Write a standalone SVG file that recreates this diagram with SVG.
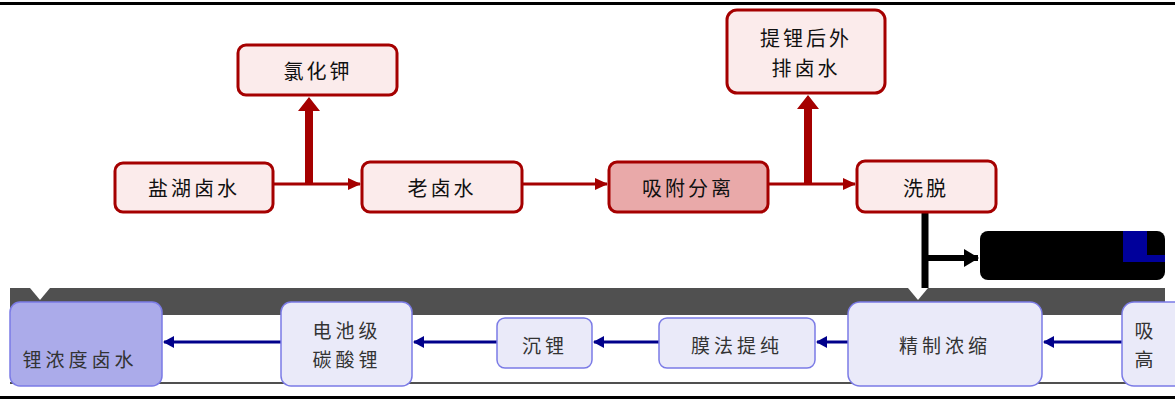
<svg xmlns="http://www.w3.org/2000/svg" width="1175" height="399" viewBox="0 0 1175 399">
<defs>
<style>
.tb{fill:#FBEBEB;stroke:#A50000;stroke-width:3}
.tb2{fill:#E9A9A9;stroke:#A50000;stroke-width:3}
.bb{fill:#EAEAF9;stroke:#7B7BE6;stroke-width:1.5}
.bb2{fill:#ABABEA;stroke:#7B7BE6;stroke-width:1.5}
.t{font-family:"Noto Sans CJK SC","Noto Sans",sans-serif;font-size:20px;fill:#111;text-anchor:middle;dominant-baseline:central;letter-spacing:3px}
.bt{font-family:"Noto Sans CJK SC","Noto Sans",sans-serif;font-size:19px;fill:#333;text-anchor:middle;dominant-baseline:central;letter-spacing:4px}
.rl{stroke:#A50000;stroke-width:3;fill:none}
.bl{stroke:#00008B;stroke-width:3;fill:none}
</style>
<marker id="ra" markerWidth="14" markerHeight="14" refX="12" refY="7" orient="auto" markerUnits="userSpaceOnUse">
<path d="M0,1 L13,7 L0,13 Z" fill="#A50000"/>
</marker>
<marker id="ba" markerWidth="12" markerHeight="12" refX="10" refY="6" orient="auto" markerUnits="userSpaceOnUse">
<path d="M0,0 L11,6 L0,12 Z" fill="#00008B"/>
</marker>
<marker id="ka" markerWidth="16" markerHeight="18" refX="14" refY="9" orient="auto" markerUnits="userSpaceOnUse">
<path d="M0,0 L15,9 L0,18 Z" fill="#000"/>
</marker>
</defs>
<rect x="0" y="0" width="1175" height="399" fill="#fff"/>
<rect x="0" y="2" width="1175" height="3" fill="#000"/>
<rect x="0" y="396" width="1175" height="3" fill="#000"/>
<g id="band">
<path d="M10,288 H1165 V315 H10 Z" fill="#505050"/>
<path d="M30,288 L40,300 L50,288 Z" fill="#fff"/>
<path d="M908,288 L918,300 L928,288 Z" fill="#fff"/>
<rect x="10" y="382" width="1155" height="2" fill="#505050"/>
</g>
<g id="connectors">
<line class="rl" x1="273" y1="184" x2="360" y2="184" marker-end="url(#ra)"/>
<line class="rl" x1="522" y1="184" x2="607" y2="184" marker-end="url(#ra)"/>
<line class="rl" x1="768" y1="184" x2="855" y2="184" marker-end="url(#ra)"/>
<path d="M305,184 V111 H298 L309,97 L320,111 H313 V184 Z" fill="#A50000"/>
<path d="M804,184 V109 H797 L808,95 L819,109 H812 V184 Z" fill="#A50000"/>
<line x1="925" y1="212" x2="925" y2="288" stroke="#000" stroke-width="7"/>
<line x1="925" y1="258" x2="978" y2="258" stroke="#000" stroke-width="6" marker-end="url(#ka)"/>
<line class="bl" x1="1122" y1="342" x2="1044" y2="342" marker-end="url(#ba)"/>
<line class="bl" x1="848" y1="342" x2="817" y2="342" marker-end="url(#ba)"/>
<line class="bl" x1="659" y1="342" x2="594" y2="342" marker-end="url(#ba)"/>
<line class="bl" x1="497" y1="342" x2="414" y2="342" marker-end="url(#ba)"/>
<line class="bl" x1="281" y1="342" x2="164" y2="342" marker-end="url(#ba)"/>
</g>
<g id="n1"><rect class="tb" x="115" y="163" width="158" height="49" rx="8"/><text class="t" x="194" y="187">盐湖卤水</text></g>
<g id="n2"><rect class="tb" x="362" y="162" width="160" height="50" rx="8"/><text class="t" x="442" y="187">老卤水</text></g>
<g id="n3"><rect class="tb2" x="609" y="162" width="159" height="50" rx="8"/><text class="t" x="688" y="187">吸附分离</text></g>
<g id="n4"><rect class="tb" x="857" y="161" width="139" height="51" rx="8"/><text class="t" x="926" y="187">洗脱</text></g>
<g id="n5"><rect class="tb" x="238" y="45" width="159" height="50" rx="8"/><text class="t" x="318" y="70">氯化钾</text></g>
<g id="n6"><rect class="tb" x="727" y="10" width="158" height="83" rx="10"/><text class="t" x="806" y="37">提锂后外</text><text class="t" x="806" y="67">排卤水</text></g>
<g id="n7"><rect x="980" y="231" width="185" height="49" rx="8" fill="#000"/><path d="M1123,231 H1147 V255 H1165 V262 H1123 Z" fill="#00009B"/></g>
<g id="n8"><rect class="bb2" x="10" y="302" width="152" height="84" rx="10"/><text class="bt" x="80" y="358">锂浓度卤水</text></g>
<g id="n9"><rect class="bb" x="281" y="302" width="131" height="84" rx="10"/><text class="bt" x="347" y="329">电池级</text><text class="bt" x="347" y="358">碳酸锂</text></g>
<g id="n10"><rect class="bb" x="497" y="318" width="95" height="50" rx="8"/><text class="bt" x="545" y="344">沉锂</text></g>
<g id="n11"><rect class="bb" x="659" y="318" width="156" height="50" rx="8"/><text class="bt" x="737" y="344">膜法提纯</text></g>
<g id="n12"><rect class="bb" x="848" y="302" width="194" height="84" rx="12"/><text class="bt" x="945" y="344">精制浓缩</text></g>
<g id="n13"><rect class="bb" x="1122" y="302" width="80" height="84" rx="12"/><text class="bt" x="1146" y="329">吸</text><text class="bt" x="1146" y="358">高</text></g>
</svg>
